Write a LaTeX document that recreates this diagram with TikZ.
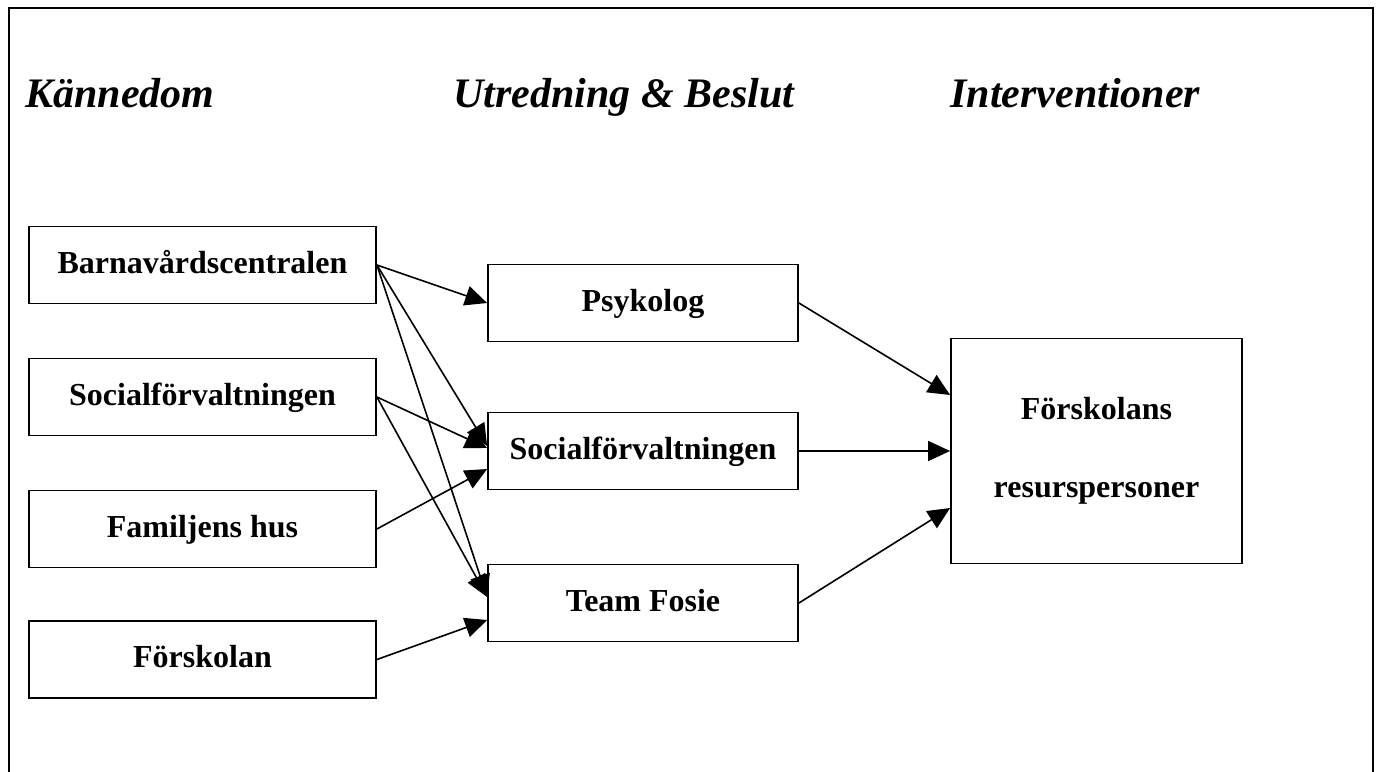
\documentclass[tikz,border=0pt]{standalone}
\usepackage{fontspec}
\setmainfont{Liberation Serif}
\usepackage{xcolor}
\usetikzlibrary{calc,arrows.meta}
\definecolor{ink}{HTML}{000000}
\tikzset{
  frame/.style={draw=ink, line width=1.1pt},
  unit/.style={draw=ink, line width=0.9pt, minimum width=173.5pt, minimum height=38.5pt,
    inner sep=0pt, text depth=3pt, font=\fontsize{16pt}{19pt}\selectfont\bfseries},
  midunit/.style={unit, minimum width=155pt},
  flow/.style={draw=ink, line width=0.8pt, -{Triangle[length=11pt,width=10pt]}},
  phase/.style={anchor=base west, inner sep=0pt, font=\fontsize{21pt}{25pt}\selectfont\bfseries\itshape},
  every node/.style={text=ink}
}

\begin{document}
\begin{tikzpicture}[x=0.5pt,y=-0.5pt]
  \useasboundingbox (0,0) rectangle (1381,771);
  \draw[frame] (9,790) -- (9,8) -- (1373,8) -- (1373,790);

  % phase headings
  \node[phase] (kann) at (25,107) {Kännedom};
  \node[phase] (utr) at (453,107) {Utredning \& Beslut};
  \node[phase] (int) at (950,107) {Interventioner};

  % first column
  \node[unit] (bvc) at (202.5,265) {Barnavårdscentralen};
  \node[unit] (sfl) at (202.5,397) {Socialförvaltningen};
  \node[unit] (fam) at (202.5,529) {Familjens hus};
  \node[unit] (fsk) at (202.5,659.5) {Förskolan};

  % second column
  \node[midunit] (psy) at (643,303) {Psykolog};
  \node[midunit] (sfm) at (643,451) {Socialförvaltningen};
  \node[midunit] (tf) at (643,603) {Team Fosie};

  % third column
  \node[draw=ink, line width=0.9pt, minimum width=145.5pt, minimum height=112.5pt,
    inner sep=0pt, align=center, font=\fontsize{16pt}{39pt}\selectfont\bfseries]
    (res) at (1096.5,451) {Förskolans\\resurspersoner};

  \draw[flow] (bvc.east) -- (psy.west);
  \draw[flow] (bvc.east) -- ($(sfm.west)+(0,-5)$);
  \draw[flow] (bvc.east) -- ($(tf.west)+(0,-6)$);
  \draw[flow] (sfl.east) -- ($(sfm.west)+(0,-3)$);
  \draw[flow] (sfl.east) -- ($(tf.west)+(0,-6)$);
  \draw[flow] (fam.east) -- ($(sfm.west)+(0,18)$);
  \draw[flow] (fsk.east) -- ($(tf.west)+(0,17)$);

  \draw[flow] (psy.east) -- ($(res.west)+(0,-56)$);
  \draw[flow] (sfm.east) -- (res.west);
  \draw[flow] (tf.east) -- ($(res.west)+(0,57)$);
\end{tikzpicture}
\end{document}
